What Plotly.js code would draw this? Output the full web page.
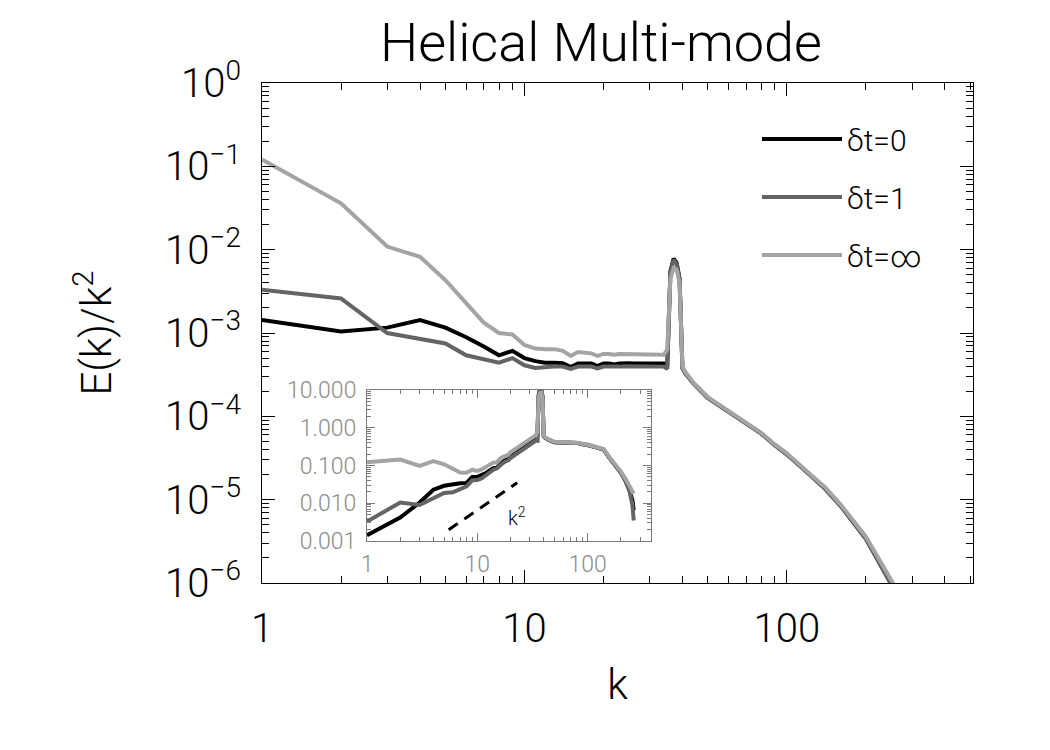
<!DOCTYPE html>
<html>
<head>
<meta charset="utf-8">
<script src="https://cdn.plot.ly/plotly-3.0.1.min.js"></script>
<style>body{margin:0;background:#fff;}</style>
</head>
<body>
<div id="chart" style="width:1050px;height:750px;"></div>
<script>
// wavenumbers (main panel)
const k = [1,2,3,4,5,6,7,8,9,10,11,12,13,14,15,16,17,18,19,20,21,22,23,24,25,26,27,28,29,30,31,32,33,34,35,36,37,38,39,40,41,44,50,60,70,80,90,100,120,140,160,180,200,220,240,250,256];

// E(k)/k^2 for each run (main panel)
const spec_dt0 = [1.43e-3,1.04e-3,1.16e-3,1.43e-3,1.16e-3,8.9e-4,6.9e-4,5.4e-4,6.1e-4,5.0e-4,4.6e-4,4.4e-4,4.4e-4,4.35e-4,3.9e-4,4.3e-4,4.3e-4,4.3e-4,4.0e-4,4.3e-4,4.3e-4,4.2e-4,4.3e-4,4.35e-4,4.35e-4,4.3e-4,4.3e-4,4.3e-4,4.3e-4,4.3e-4,4.3e-4,4.3e-4,4.3e-4,4.3e-4,3.9e-4,5.5e-3,7.8e-3,7.0e-3,4.5e-3,3.8e-4,3.3e-4,2.5e-4,1.66e-4,1.12e-4,8.2e-5,6.2e-5,4.5e-5,3.5e-5,2.1e-5,1.35e-5,8.5e-6,5.3e-6,3.4e-6,2.0e-6,1.2e-6,1.0e-6,8.5e-7];
const spec_dt1 = [3.3e-3,2.6e-3,1.0e-3,8.4e-4,7.5e-4,5.4e-4,4.8e-4,4.4e-4,5.0e-4,4.1e-4,3.8e-4,3.9e-4,3.95e-4,3.95e-4,3.7e-4,3.95e-4,3.95e-4,3.95e-4,3.75e-4,3.95e-4,3.95e-4,3.9e-4,3.95e-4,4.0e-4,4.0e-4,3.95e-4,3.95e-4,3.95e-4,3.95e-4,3.95e-4,3.95e-4,3.95e-4,3.95e-4,3.95e-4,3.7e-4,5.3e-3,7.5e-3,6.8e-3,4.4e-3,3.8e-4,3.3e-4,2.5e-4,1.66e-4,1.12e-4,8.2e-5,6.2e-5,4.5e-5,3.5e-5,2.1e-5,1.35e-5,8.5e-6,5.3e-6,3.4e-6,2.0e-6,1.2e-6,1.0e-6,8.3e-7];
const spec_dtinf = [0.121,0.036,1.09e-2,8.2e-3,4.3e-3,2.3e-3,1.33e-3,1.0e-3,9.6e-4,7.2e-4,6.5e-4,6.4e-4,6.4e-4,6.1e-4,5.3e-4,5.9e-4,5.8e-4,5.7e-4,5.3e-4,5.6e-4,5.6e-4,5.5e-4,5.6e-4,5.6e-4,5.6e-4,5.5e-4,5.5e-4,5.5e-4,5.5e-4,5.5e-4,5.5e-4,5.5e-4,5.5e-4,5.5e-4,6.3e-4,4.5e-3,6.0e-3,5.8e-3,4.0e-3,4.0e-4,3.4e-4,2.55e-4,1.7e-4,1.15e-4,8.4e-5,6.3e-5,4.6e-5,3.6e-5,2.15e-5,1.4e-5,8.8e-6,5.5e-6,3.6e-6,2.15e-6,1.35e-6,1.1e-6,9.5e-7];

// inset: E(k) high-k end
const insetTailK = [160,180,200,220,240,255,262];
const insetTail_dt0 = [0.15,0.10,0.065,0.040,0.022,0.012,0.0065];
const insetTail_dt1 = [0.15,0.10,0.065,0.040,0.021,0.009,0.0035];
const insetTail_dtinf = [0.155,0.105,0.070,0.045,0.027,0.020,0.018];
const insetKMax = 140; // inset uses E = spec*k^2 up to this k, then the tail above

const seriesNames = ['\u03b4t=0', '\u03b4t=1', '\u03b4t=\u221e'];
const seriesColors = ['#000000', '#646464', '#a4a4a4'];

// k^2 reference segment for the inset
const refK = [5.5, 23];
const refE = [0.002, 0.035];

const yTickVals = [1e-6,1e-5,1e-4,1e-3,1e-2,1e-1,1];
const yTickText = ['10<sup>\u22126</sup>','10<sup>\u22125</sup>','10<sup>\u22124</sup>','10<sup>\u22123</sup>','10<sup>\u22122</sup>','10<sup>\u22121</sup>','10<sup>0</sup>'];
const xTickVals = [1,10,100];
const xTickText = ['1','10','100'];
const insetYTickVals = [0.001,0.01,0.1,1,10];
const insetYTickText = ['0.001','0.010','0.100','1.000','10.000'];

const specs = [spec_dt0, spec_dt1, spec_dtinf];
const tails = [insetTail_dt0, insetTail_dt1, insetTail_dtinf];

function minorLog(lo, hi) {
  const v = [];
  for (let d = lo; d < hi; d++) for (let m = 2; m <= 9; m++) v.push(m * Math.pow(10, d));
  return v;
}

const FONT = 'Roboto, "Open Sans", sans-serif';
const traces = [];
specs.forEach((s, i) => {
  traces.push({
    x: k, y: s, type: 'scatter', mode: 'lines', name: seriesNames[i],
    line: {color: seriesColors[i], width: 4}, legendgroup: 'g' + i,
    xaxis: 'x', yaxis: 'y'
  });
});
specs.forEach((s, i) => {
  const ix = [], iy = [];
  k.forEach((kk, j) => { if (kk <= insetKMax) { ix.push(kk); iy.push(s[j] * kk * kk); } });
  insetTailK.forEach((kk, j) => { ix.push(kk); iy.push(tails[i][j]); });
  traces.push({
    x: ix, y: iy, type: 'scatter', mode: 'lines',
    line: {color: seriesColors[i], width: 4}, showlegend: false,
    xaxis: 'x2', yaxis: 'y2'
  });
});
traces.push({
  x: refK, y: refE, type: 'scatter', mode: 'lines', showlegend: false,
  line: {color: '#000', width: 3, dash: '11px,8px'}, xaxis: 'x2', yaxis: 'y2'
});

const mainAxis = {
  type: 'log', showline: true, linecolor: '#000', linewidth: 1, mirror: 'allticks',
  ticks: 'inside', ticklen: 13, tickwidth: 1, tickcolor: '#000',
  showgrid: false, zeroline: false,
  tickfont: {family: FONT, size: 40, color: '#000', weight: 300}
};

const layout = {
  width: 1050, height: 750,
  margin: {l: 262, r: 77, t: 83, b: 167},
  paper_bgcolor: '#fff', plot_bgcolor: '#fff',
  title: {text: 'Helical Multi-mode', font: {family: FONT, size: 54, color: '#000', weight: 300},
          x: 601/1050, xanchor: 'center', xref: 'container', y: 1 - 42/750, yanchor: 'middle', yref: 'container'},
  xaxis: Object.assign({}, mainAxis, {
    range: [0, Math.log10(512)], tickvals: xTickVals, ticktext: xTickText,
    ticklabelstandoff: 10,
    minor: {ticks: 'inside', ticklen: 7, tickcolor: '#000', tickvals: minorLog(0, 3), showgrid: false},
    title: {text: 'k', font: {family: FONT, size: 42, color: '#000', weight: 300}, standoff: 18}
  }),
  yaxis: Object.assign({}, mainAxis, {
    range: [-6, 0], tickvals: yTickVals, ticktext: yTickText,
    ticklabelstandoff: 12,
    minor: {ticks: 'inside', ticklen: 7, tickcolor: '#000', tickvals: minorLog(-6, 0), showgrid: false},
    title: {text: 'E(k)/k<sup>2</sup>', font: {family: FONT, size: 42, color: '#000', weight: 300}, standoff: 40}
  }),
  xaxis2: {
    type: 'log', domain: [(367-262)/711, (651-262)/711], anchor: 'y2', range: [0, 2.575],
    showline: true, linecolor: '#7a7a7a', mirror: 'allticks', ticks: 'inside', ticklen: 8, tickcolor: '#7a7a7a',
    tickvals: xTickVals, ticktext: xTickText, showgrid: false, zeroline: false,
    minor: {ticks: 'inside', ticklen: 4, tickcolor: '#7a7a7a', tickvals: minorLog(0, 3), showgrid: false},
    tickfont: {family: FONT, size: 23, color: '#8c8c8c', weight: 300}, ticklabelstandoff: 2
  },
  yaxis2: {
    type: 'log', domain: [(583-541)/500, (583-390)/500], anchor: 'x2', range: [-3, 1],
    showline: true, linecolor: '#7a7a7a', mirror: 'allticks', ticks: 'inside', ticklen: 8, tickcolor: '#7a7a7a',
    tickvals: insetYTickVals, ticktext: insetYTickText, showgrid: false, zeroline: false,
    minor: {ticks: 'inside', ticklen: 4, tickcolor: '#7a7a7a', tickvals: minorLog(-3, 1), showgrid: false},
    tickfont: {family: FONT, size: 23, color: '#8c8c8c', weight: 300}, ticklabelstandoff: 5
  },
  legend: {
    x: (757-262)/711, y: (583-113)/500, xanchor: 'left', yanchor: 'top',
    bgcolor: 'rgba(0,0,0,0)', borderwidth: 0, traceorder: 'grouped', tracegroupgap: 16,
    itemwidth: 80, font: {family: FONT, size: 30, color: '#000', weight: 300}
  },
  annotations: [{
    x: Math.log10(23), y: Math.log10(0.0042), xref: 'x2', yref: 'y2', showarrow: false,
    text: 'k<sup>2</sup>', font: {family: FONT, size: 20, color: '#000', weight: 300}
  }],
  showlegend: true
};

Plotly.newPlot('chart', traces, layout, {displayModeBar: false, staticPlot: true});
</script>
</body>
</html>
